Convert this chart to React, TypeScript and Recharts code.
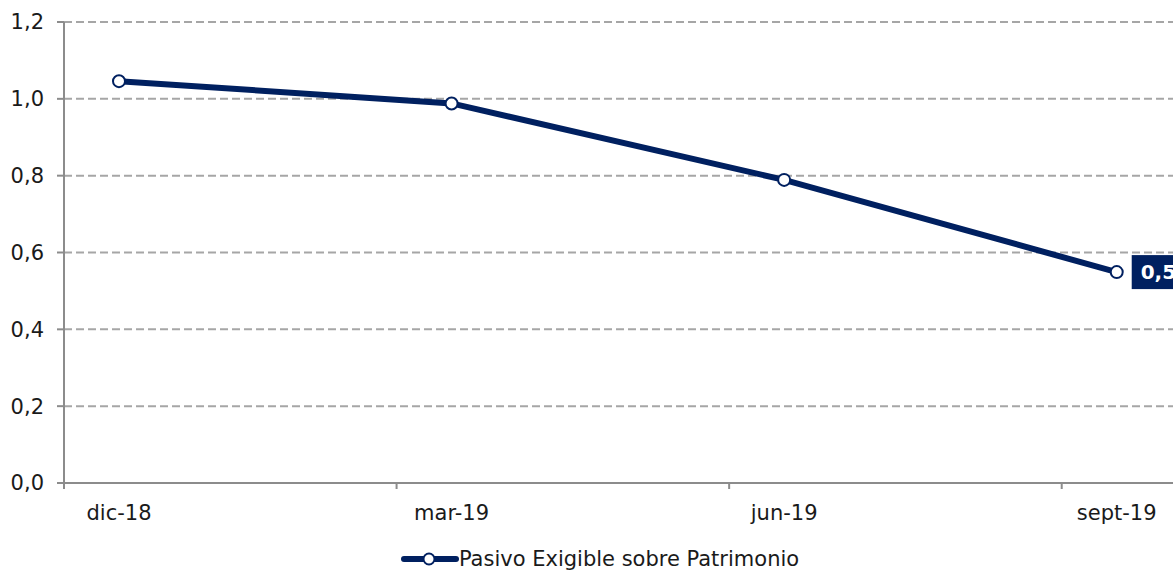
import { LineChart, Line, XAxis, YAxis, CartesianGrid, Legend, LabelList } from "recharts";

const categories = ["dic-18", "mar-19", "jun-19", "sept-19"];
const values = [1.046, 0.988, 0.789, 0.549];
const yTicks = [0, 0.2, 0.4, 0.6, 0.8, 1.0, 1.2];
const seriesName = "Pasivo Exigible sobre Patrimonio";

const data = categories.map((c, i) => ({ idx: i, name: c, valor: values[i] }));

const NAVY = "#002060";
const AXIS = "#8c8c8c";
const GRID = "#a6a6a6";
const TEXT = "#1a1a1a";
const FONT = "'DejaVu Sans', Verdana, sans-serif";

const CHART_W = 1290;
const CHART_H = 571;
const TICK_SHIFT = 55; // category tick marks sit left of the labels
const X_TICK_MARGIN = 22;

const fmt = (v: number, d: number) => v.toFixed(d).replace(".", ",");

const XTick = (props: any) => {
  const { x, y, payload } = props;
  const axisY = y - X_TICK_MARGIN;
  return (
    <g>
      <line x1={x - TICK_SHIFT} x2={x - TICK_SHIFT} y1={axisY} y2={axisY + 6} stroke={AXIS} strokeWidth={2} />
      <text x={x} y={y} dy="0.71em" textAnchor="middle" fill={TEXT} fontSize={21} fontFamily={FONT}>
        {categories[payload.value]}
      </text>
    </g>
  );
};

const LastLabel = (props: any) => {
  const { x, y, value, index } = props;
  if (index !== values.length - 1) return null;
  return (
    <g>
      <rect x={x + 15} y={y - 17} width={70} height={34} fill={NAVY} />
      <text x={x + 24} y={y} dy="0.36em" fill="#fff" fontSize={20} fontWeight="bold" fontFamily={FONT}>
        {fmt(value, 2)}
      </text>
    </g>
  );
};

const LegendContent = () => (
  <div style={{ display: "flex", justifyContent: "center", alignItems: "center", height: 20, fontFamily: FONT, lineHeight: "20px" }}>
    <svg width={58} height={20}>
      <line x1={3} x2={55} y1={10} y2={10} stroke={NAVY} strokeWidth={6} strokeLinecap="round" />
      <circle cx={28} cy={10} r={5.5} fill="#fff" stroke={NAVY} strokeWidth={2} />
    </svg>
    <span style={{ fontSize: 21, color: TEXT }}>{seriesName}</span>
  </div>
);

export default function App() {
  return (
    <div style={{ position: "absolute", left: 0, top: 0, width: 1173, height: 571, overflow: "hidden", background: "#fff" }}>
      <LineChart width={CHART_W} height={CHART_H} data={data} margin={{ top: 22, right: 7, left: 0, bottom: 18 }}>
        <CartesianGrid vertical={false} stroke={GRID} strokeWidth={2} strokeDasharray="8 4" />
        <XAxis
          dataKey="idx"
          type="number"
          domain={[-0.1654, 3.5]}
          ticks={[0, 1, 2, 3]}
          allowDataOverflow
          height={50}
          stroke={AXIS}
          strokeWidth={2}
          tickLine={false}
          tickSize={0}
          tickMargin={X_TICK_MARGIN}
          tick={<XTick />}
        />
        <YAxis
          domain={[0, 1.2]}
          ticks={yTicks}
          width={64}
          stroke={AXIS}
          strokeWidth={2}
          tickSize={7}
          tickMargin={13}
          tickLine={{ stroke: AXIS, strokeWidth: 2 }}
          tick={{ fill: TEXT, fontSize: 21, fontFamily: FONT }}
          tickFormatter={(v: number) => fmt(v, 1)}
        />
        <Legend verticalAlign="bottom" content={<LegendContent />} wrapperStyle={{ left: 0, width: 1200, bottom: 2 }} />
        <Line
          type="linear"
          dataKey="valor"
          name={seriesName}
          stroke={NAVY}
          strokeWidth={6}
          dot={{ r: 6, fill: "#fff", stroke: NAVY, strokeWidth: 2 }}
          activeDot={false}
          isAnimationActive={false}
        >
          <LabelList dataKey="valor" content={<LastLabel />} />
        </Line>
      </LineChart>
    </div>
  );
}
